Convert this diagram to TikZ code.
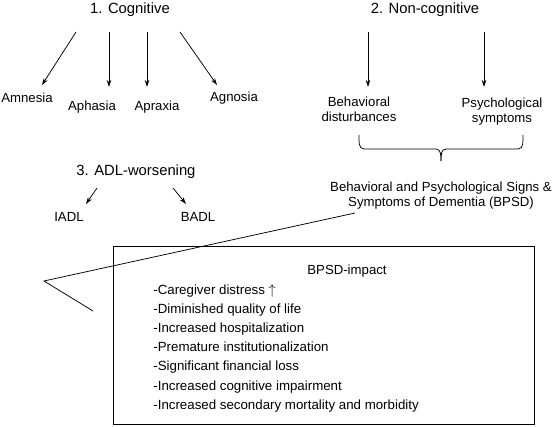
\documentclass[tikz,border=0pt]{standalone}
\usepackage{fontspec}
\setmainfont{Liberation Sans}
\usetikzlibrary{arrows.meta}
\begin{document}
\begin{tikzpicture}[x=1pt,y=-1pt, line width=0.75pt,
  head/.style={font=\fontsize{14.8}{17}\selectfont, inner sep=0},
  lbl/.style={font=\fontsize{13.2}{15}\selectfont, inner sep=0, align=center},
  item/.style={font=\fontsize{13.3}{15}\selectfont, inner sep=0, anchor=base west},
  arr/.style={-{Stealth[length=7pt,width=4.5pt]}},
]
\useasboundingbox (0,0) rectangle (553,427);
% headings
\node[head] (cog) at (130,9.5) {1. Cognitive};
\node[head] (noncog) at (425,9.5) {2. Non-cognitive};
\node[head] (adl) at (136,171.5) {3. ADL-worsening};
% labels
\node[lbl] (amn) at (27,98) {Amnesia};
\node[lbl] (aph) at (92,107) {Aphasia};
\node[lbl] (apr) at (157,107) {Apraxia};
\node[lbl] (agn) at (234,98) {Agnosia};
\node[lbl] (beh) at (359,109.5) {Behavioral\\disturbances};
\node[lbl] (psy) at (502,111.5) {Psychological\\symptoms};
\node[lbl] (bpsd) at (441,195.5) {Behavioral and Psychological Signs \&\\Symptoms of Dementia (BPSD)};
\node[lbl] (iadl) at (69,217) {IADL};
\node[lbl] (badl) at (198,217) {BADL};
% arrow endpoints
\coordinate (c1s) at (76,32);  \coordinate (c1e) at (42,85);
\coordinate (c2s) at (109,32); \coordinate (c2e) at (109,87);
\coordinate (c3s) at (147,32); \coordinate (c3e) at (147,87);
\coordinate (c4s) at (180,32); \coordinate (c4e) at (217,85);
\coordinate (n1s) at (368,32); \coordinate (n1e) at (368,87);
\coordinate (n2s) at (484,32); \coordinate (n2e) at (484,87);
\coordinate (a1s) at (97,188); \coordinate (a1e) at (86,204);
\coordinate (a2s) at (173,188); \coordinate (a2e) at (186,204);
\draw[arr] (c1s) -- (c1e);
\draw[arr] (c2s) -- (c2e);
\draw[arr] (c3s) -- (c3e);
\draw[arr] (c4s) -- (c4e);
\draw[arr] (n1s) -- (n1e);
\draw[arr] (n2s) -- (n2e);
\draw[arr] (a1s) -- (a1e);
\draw[arr] (a2s) -- (a2e);
% brace
\coordinate (brL) at (359,135);
\coordinate (brR) at (523,135);
\coordinate (brT) at (441,161);
\draw (brL) to[out=-90,in=180] (364,149) -- (436,149) to[out=0,in=90] (brT);
\draw (brT) to[out=90,in=180] (446,149) -- (518,149) to[out=0,in=-90] (brR);
% impact box
\node[draw, minimum width=421, minimum height=178, inner sep=0] (box) at (323.5,335) {};
\node[lbl] (imp) at (347,271) {BPSD-impact};
\foreach \t [count=\i] in {-Caregiver distress $\uparrow$,-Diminished quality of life,-Increased hospitalization,-Premature institutionalization,-Significant financial loss,-Increased cognitive impairment,-Increased secondary mortality and morbidity}
  \node[item] (it\i) at (153,{294+19.2*(\i-1)}) {\t};
% callout line
\coordinate (ls) at (355,213);
\coordinate (lm) at (44,281);
\coordinate (le) at (93,311);
\draw (ls) -- (lm) -- (le);
\end{tikzpicture}
\end{document}
